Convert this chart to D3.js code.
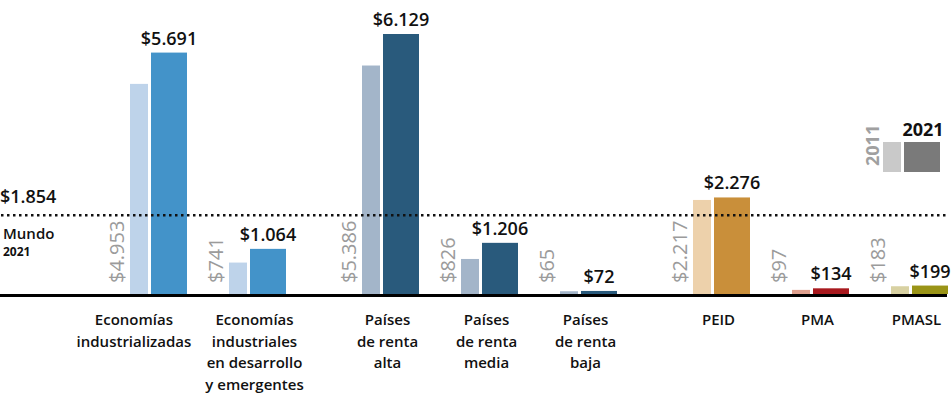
<!DOCTYPE html>
<html lang="es">
<head>
<meta charset="utf-8">
<script src="https://cdn.jsdelivr.net/npm/d3@7"></script>
<style>
  html, body { margin: 0; padding: 0; background: #fff; }
  svg { display: block; font-family: "Open Sans", "DejaVu Sans", sans-serif; }
</style>
</head>
<body>
<svg id="chart" width="952" height="399"></svg>
<script>
// Renta per cápita por grupo de economías, 2011 y 2021 (USD)
const categoryLines = [
  ["Economías", "industrializadas"],
  ["Economías", "industriales", "en desarrollo", "y emergentes"],
  ["Países", "de renta", "alta"],
  ["Países", "de renta", "media"],
  ["Países", "de renta", "baja"],
  ["PEID"],
  ["PMA"],
  ["PMASL"]
];
// bloque al que pertenece cada categoría (separa visualmente los grupos)
const sections = [0, 0, 1, 1, 1, 2, 2, 2];
const values2011 = [4953, 741, 5386, 826, 65, 2217, 97, 183];
const values2021 = [5691, 1064, 6129, 1206, 72, 2276, 134, 199];
const world2021 = 1854;
const legendYears = ["2011", "2021"];

// paleta por categoría
const colors2011 = ["#bed3ea", "#bed3ea", "#a3b5c9", "#a3b5c9", "#a3b5c9", "#edd1ab", "#dfa08e", "#d8d1a2"];
const colors2021 = ["#4393c9", "#4393c9", "#295a7c", "#295a7c", "#295a7c", "#c98f3a", "#a8191e", "#9a9417"];
const legendColors = ["#c9c9c9", "#7a7a7a"];

const svg = d3.select("#chart");
const es = d3.formatLocale({ decimal: ",", thousands: ".", grouping: [3], currency: ["$", ""] });
const money = es.format("$,");

const baseY = 294;
const sectionGap = 34 / 99;              // hueco extra entre bloques, en unidades de categoría
const slot = categoryLines.map((_, i) => i + sections[i] * sectionGap);

const x = d3.scaleLinear()
  .domain([0, d3.max(slot)])
  .range([130, 891]);
const y = d3.scaleLinear()
  .domain([0, d3.max(values2021)])
  .range([baseY, 34]);

const lightW = 18, gap = 3, darkW = 36;
const pairW = lightW + gap + darkW;

const g = svg.append("g");

// barras 2011
g.selectAll("rect.y2011")
  .data(values2011)
  .join("rect")
  .attr("class", "y2011")
  .attr("x", (d, i) => x(slot[i]))
  .attr("y", d => y(d))
  .attr("width", lightW)
  .attr("height", d => baseY - y(d))
  .attr("fill", (d, i) => colors2011[i]);

// barras 2021
g.selectAll("rect.y2021")
  .data(values2021)
  .join("rect")
  .attr("class", "y2021")
  .attr("x", (d, i) => x(slot[i]) + lightW + gap)
  .attr("y", d => y(d))
  .attr("width", darkW)
  .attr("height", d => baseY - y(d))
  .attr("fill", (d, i) => colors2021[i]);

// etiquetas 2011, en vertical a la izquierda de la barra
g.selectAll("text.v2011")
  .data(values2011)
  .join("text")
  .attr("class", "v2011")
  .attr("transform", (d, i) => `translate(${x(slot[i]) - 6},${baseY - 11}) rotate(-90)`)
  .attr("text-anchor", "start")
  .attr("font-size", 20)
  .attr("fill", "#9b9b9b")
  .text(d => money(d));

// etiquetas 2021 sobre la barra
g.selectAll("text.v2021")
  .data(values2021)
  .join("text")
  .attr("class", "v2021")
  .attr("x", (d, i) => x(slot[i]) + lightW + gap + darkW / 2)
  .attr("y", d => y(d) - 8)
  .attr("text-anchor", "middle")
  .attr("font-size", 18)
  .attr("font-weight", 600)
  .attr("fill", "#111")
  .text(d => money(d));

// referencia mundial
const wy = y(world2021);
svg.append("line")
  .attr("x1", 1).attr("x2", 947)
  .attr("y1", wy).attr("y2", wy)
  .attr("stroke", "#111")
  .attr("stroke-width", 2.5)
  .attr("stroke-dasharray", "2.5 3.5");
svg.append("text")
  .attr("x", 0).attr("y", wy - 12)
  .attr("font-size", 18)
  .attr("font-weight", 600)
  .attr("fill", "#111")
  .text(money(world2021));
svg.append("text")
  .attr("x", 3).attr("y", wy + 24)
  .attr("font-size", 15)
  .attr("font-weight", 600)
  .attr("fill", "#111")
  .text("Mundo");
svg.append("text")
  .attr("x", 3).attr("y", wy + 41)
  .attr("font-size", 12)
  .attr("font-weight", 700)
  .attr("fill", "#111")
  .text("2021");

// línea base
svg.append("line")
  .attr("x1", 0).attr("x2", 947)
  .attr("y1", baseY + 1.5).attr("y2", baseY + 1.5)
  .attr("stroke", "#000")
  .attr("stroke-width", 3);

// rótulos de categoría, centrados bajo cada par de barras
const labels = svg.selectAll("text.cat")
  .data(categoryLines)
  .join("text")
  .attr("class", "cat")
  .attr("text-anchor", "middle")
  .attr("font-size", 15)
  .attr("font-weight", 600)
  .attr("fill", "#111");
labels.selectAll("tspan")
  .data(d => d)
  .join("tspan")
  .attr("x", 0)
  .attr("y", (d, j) => j * 21.5)
  .text(d => d);

// desplaza a la izquierda un rótulo que invadiría al siguiente
const centers = categoryLines.map((_, i) => x(slot[i]) + pairW / 2 - 3);
const halfW = labels.nodes().map(n => n.getBBox().width / 2);
for (let i = centers.length - 2; i >= 0; i--) {
  const limit = centers[i + 1] - halfW[i + 1] - 14;
  if (centers[i] + halfW[i] > limit) centers[i] = limit - halfW[i];
}
labels.attr("transform", (d, i) => `translate(${centers[i]},325)`);

// leyenda
const leg = svg.append("g");
leg.append("rect").attr("x", 883).attr("y", 142).attr("width", lightW).attr("height", 30).attr("fill", legendColors[0]);
leg.append("rect").attr("x", 904).attr("y", 142).attr("width", darkW).attr("height", 30).attr("fill", legendColors[1]);
leg.append("text")
  .attr("transform", "translate(879,166) rotate(-90)")
  .attr("font-size", 18)
  .attr("font-weight", 700)
  .attr("fill", "#a0a0a0")
  .text(legendYears[0]);
leg.append("text")
  .attr("x", 923).attr("y", 136)
  .attr("text-anchor", "middle")
  .attr("font-size", 18)
  .attr("font-weight", 700)
  .attr("fill", "#111")
  .text(legendYears[1]);
</script>
</body>
</html>
